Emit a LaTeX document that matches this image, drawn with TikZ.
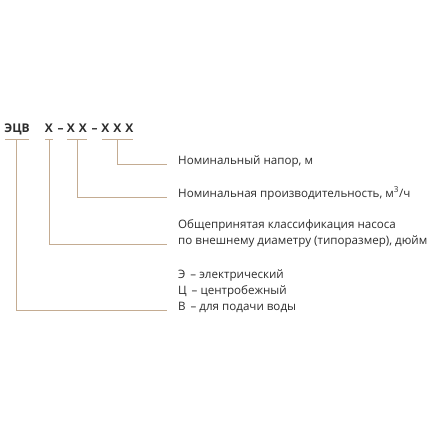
\documentclass[tikz,border=0pt]{standalone}
\usepackage{fontspec}
\setmainfont{Open Sans}
\begin{document}
\begin{tikzpicture}[x=1pt,y=-1pt,
  lbl/.style={anchor=base west,inner sep=0pt,text=txt,font=\fontsize{11.6}{14}\selectfont},
  hdr/.style={anchor=base,inner sep=0pt,text=txt,font=\fontsize{12}{14}\selectfont\bfseries},
  ln/.style={draw=lncol,line width=1pt}]
\definecolor{txt}{RGB}{45,45,45}
\definecolor{lncol}{RGB}{196,172,146}
\useasboundingbox[fill=white] (0,0) rectangle (440,440);
% header
\node[hdr] (g1) at (17,132) {ЭЦВ};
\node[hdr] (g2) at (49,132) {X};
\node[hdr] (d1) at (60.5,132) {–};
\node[hdr] (g3) at (77,132) {X\hspace{4pt}X};
\node[hdr] (d2) at (94.5,132) {–};
\node[hdr] (g4) at (117.5,132) {X\hspace{4pt}X\hspace{4pt}X};
% underline points
\coordinate (u1a) at (5,139.5);  \coordinate (u1b) at (29,139.5);  \coordinate (u1) at (16,139.5);
\coordinate (u2a) at (45,139.5); \coordinate (u2b) at (53,139.5);  \coordinate (u2) at (49,139.5);
\coordinate (u3a) at (67,139.5); \coordinate (u3b) at (87,139.5);  \coordinate (u3) at (77,139.5);
\coordinate (u4a) at (102,139.5);\coordinate (u4b) at (133,139.5); \coordinate (u4) at (117.5,139.5);
\draw[ln] (u1a) -- (u1b);
\draw[ln] (u2a) -- (u2b);
\draw[ln] (u3a) -- (u3b);
\draw[ln] (u4a) -- (u4b);
% labels
\node[lbl] (l1) at (178,164) {Номинальный напор, м};
\node[lbl] (l2) at (178,197) {Номинальная производительность, м\textsuperscript{3}/ч};
\node[lbl] (l3a) at (178,228) {Общепринятая классификация насоса};
\node[lbl] (l3b) at (178,244) {по внешнему диаметру (типоразмер), дюйм};
\node[lbl] (l4a) at (178,278) {Э \,– электрический};
\node[lbl] (l4b) at (178,294) {Ц \,– центробежный};
\node[lbl] (l4c) at (178,310) {В \,– для подачи воды};
% end points of connectors
\coordinate (e1) at (167,164);
\coordinate (e2) at (167,197);
\coordinate (e3) at (167,244);
\coordinate (e4) at (167,310);
\draw[ln] (u4) |- (e1);
\draw[ln] (u3) |- (e2);
\draw[ln] (u2) |- (e3);
\draw[ln] (u1) |- (e4);
\end{tikzpicture}
\end{document}
